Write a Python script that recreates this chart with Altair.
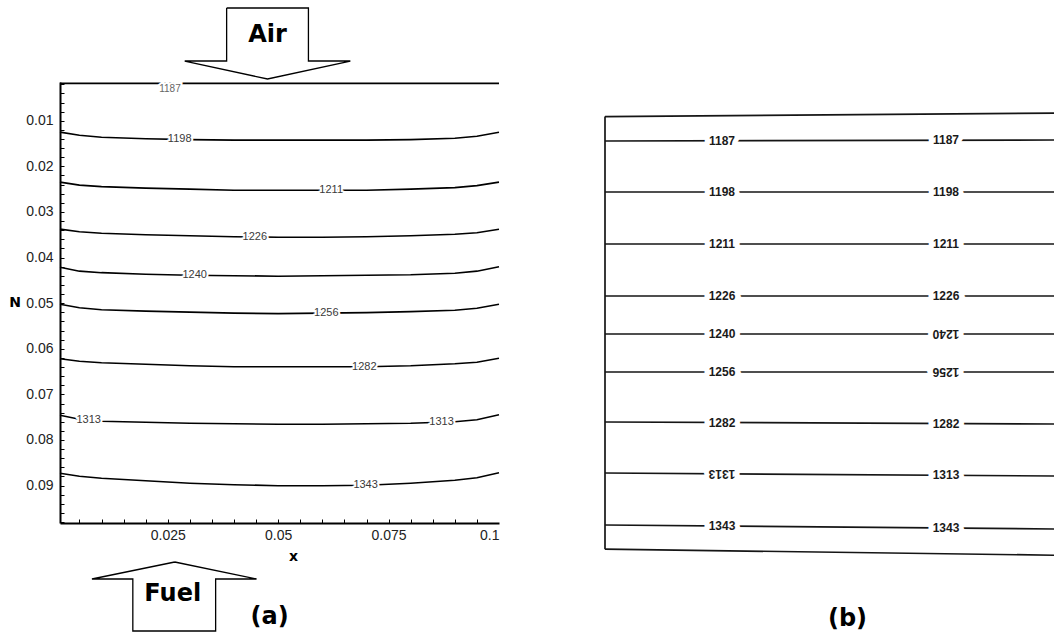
import altair as alt
import numpy as np
import pandas as pd

W, H = 1054, 637

# ---------------- Panel (a): computed isotherms ----------------
x_grid = [0.0006, 0.005, 0.01, 0.02, 0.03, 0.04, 0.05, 0.06, 0.07, 0.08, 0.09, 0.095, 0.1]
levels_a = [1187, 1198, 1211, 1226, 1240, 1256, 1282, 1313, 1343]
n_1187 = [0.0018, 0.0018, 0.0018, 0.0018, 0.0018, 0.0018, 0.0018, 0.0018, 0.0018, 0.0018, 0.0018, 0.0018, 0.0018]
n_1198 = [0.01250, 0.01316, 0.01360, 0.01393, 0.01414, 0.01425, 0.01425, 0.01425, 0.01425, 0.01414, 0.01382, 0.01338, 0.01250]
n_1211 = [0.02346, 0.02412, 0.02445, 0.02478, 0.02500, 0.02522, 0.02522, 0.02522, 0.02522, 0.02500, 0.02467, 0.02423, 0.02346]
n_1226 = [0.03377, 0.03432, 0.03465, 0.03498, 0.03520, 0.03542, 0.03553, 0.03553, 0.03542, 0.03520, 0.03487, 0.03454, 0.03377]
n_1240 = [0.04211, 0.04298, 0.04331, 0.04364, 0.04386, 0.04397, 0.04408, 0.04397, 0.04386, 0.04375, 0.04342, 0.04298, 0.04200]
n_1256 = [0.05022, 0.05099, 0.05143, 0.05175, 0.05197, 0.05219, 0.05230, 0.05219, 0.05208, 0.05186, 0.05154, 0.05110, 0.05022]
n_1282 = [0.06217, 0.06272, 0.06305, 0.06338, 0.06371, 0.06393, 0.06393, 0.06393, 0.06393, 0.06371, 0.06327, 0.06294, 0.06206]
n_1313 = [0.07456, 0.07544, 0.07588, 0.07610, 0.07632, 0.07643, 0.07654, 0.07654, 0.07643, 0.07632, 0.07599, 0.07555, 0.07445]
n_1343 = [0.08728, 0.08794, 0.08838, 0.08893, 0.08947, 0.08980, 0.09002, 0.09002, 0.08991, 0.08947, 0.08882, 0.08827, 0.08717]
contour_n = [n_1187, n_1198, n_1211, n_1226, n_1240, n_1256, n_1282, n_1313, n_1343]

# contour labels of panel (a)
label_a_level = [1187, 1198, 1211, 1226, 1240, 1256, 1282, 1313, 1313, 1343]
label_a_x = [0.0255, 0.0277, 0.0620, 0.0447, 0.0311, 0.0609, 0.0695, 0.0071, 0.0870, 0.0698]

# axis ticks of panel (a)
x_tick_labels = [0.025, 0.05, 0.075, 0.1]
y_tick_labels = [0.01, 0.02, 0.03, 0.04, 0.05, 0.06, 0.07, 0.08, 0.09]
x_minor = [0.005, 0.01, 0.015, 0.02, 0.025, 0.03, 0.035, 0.04, 0.045, 0.05,
           0.055, 0.06, 0.065, 0.07, 0.075, 0.08, 0.085, 0.09, 0.095]
y_minor = [0.002, 0.004, 0.006, 0.008, 0.01, 0.012, 0.014, 0.016, 0.018, 0.02,
           0.022, 0.024, 0.026, 0.028, 0.03, 0.032, 0.034, 0.036, 0.038, 0.04,
           0.042, 0.044, 0.046, 0.048, 0.05, 0.052, 0.054, 0.056, 0.058, 0.06,
           0.062, 0.064, 0.066, 0.068, 0.07, 0.072, 0.074, 0.076, 0.078, 0.08,
           0.082, 0.084, 0.086, 0.088, 0.09, 0.092, 0.094, 0.096, 0.098]

# flow arrows (outline vertices, in panel (a) data units)
air_x = [0.03833, 0.05685, 0.05685, 0.06634, 0.04759, 0.02884, 0.03833, 0.03833]
air_n = [-0.01473, -0.01473, -0.00310, -0.00310, 0.00084, -0.00310, -0.00310, -0.01473]
fuel_x = [0.02658, 0.04510, 0.03584, 0.03584, 0.01709, 0.01709, 0.00783, 0.02658]
fuel_n = [0.10675, 0.11048, 0.11048, 0.12188, 0.12188, 0.11048, 0.11048, 0.10675]

# ---------------- Panel (b): reference isotherms ----------------
levels_b = [1187, 1198, 1211, 1226, 1240, 1256, 1282, 1313, 1343]
b_left = [0.00619, 0.01789, 0.02982, 0.04174, 0.05046, 0.05917, 0.07064, 0.08234, 0.09427]
b_right = [0.00596, 0.01789, 0.02982, 0.04174, 0.05046, 0.05917, 0.07110, 0.08303, 0.09518]
label_b_x = [0.2606, 0.7595]
flipped_b = [(1240, 1), (1256, 1), (1313, 0)]
frame_b_x = [0, 1]
frame_b_top = [0.0006, -0.0002]
frame_b_bottom = [0.0998, 0.1012]

# ---------------- scales ----------------
XL = alt.Scale(domain=[0.0006, 0.1], range=[60, 499], nice=False, zero=False)
YL = alt.Scale(domain=[0.0015, 0.0982], range=[82, 523], nice=False, zero=False)
XR = alt.Scale(domain=[0, 1], range=[605, 1054], nice=False, zero=False)
YR = alt.Scale(domain=[0, 0.1], range=[114, 550], nice=False, zero=False)

LBL_FONT = "Liberation Sans"
BOLD_FONT = "DejaVu Sans"

# ---------------- tables ----------------
rows = []
for lev, ns in zip(levels_a, contour_n):
    for i, (xv, nv) in enumerate(zip(x_grid, ns)):
        rows.append({"x": xv, "n": nv, "level": lev, "i": i})
contours = pd.DataFrame(rows)

lab_rows = []
for lev, xv in zip(label_a_level, label_a_x):
    ns = contour_n[levels_a.index(lev)]
    lab_rows.append({"x": xv, "n": float(np.interp(xv, x_grid, ns)), "label": str(lev)})
labels_a = pd.DataFrame(lab_rows)
labels_top = labels_a[labels_a["label"] == "1187"]
labels_rest = labels_a[labels_a["label"] != "1187"]

arrows = pd.DataFrame(
    [{"x": a, "n": b, "i": i, "arrow": "air"} for i, (a, b) in enumerate(zip(air_x, air_n))]
    + [{"x": a, "n": b, "i": i, "arrow": "fuel"} for i, (a, b) in enumerate(zip(fuel_x, fuel_n))]
)

frame_a = pd.DataFrame({
    "x": [XL.domain[0], XL.domain[1]],
    "x2": [XL.domain[1], XL.domain[1]],
    "y": [YL.domain[0], YL.domain[0]],
    "y2": [YL.domain[0], YL.domain[1]],
    "w": ["top", "right"],
})

b_rows = []
for lev, l, r in zip(levels_b, b_left, b_right):
    b_rows.append({"x": 0, "n": l, "level": str(lev)})
    b_rows.append({"x": 1, "n": r, "level": str(lev)})
for xv, t in zip(frame_b_x, frame_b_top):
    b_rows.append({"x": xv, "n": t, "level": "top"})
for xv, t in zip(frame_b_x, frame_b_bottom):
    b_rows.append({"x": xv, "n": t, "level": "bottom"})
b_rows.append({"x": 0, "n": frame_b_top[0], "level": "left"})
b_rows.append({"x": 0, "n": frame_b_bottom[0], "level": "left"})
lines_b = pd.DataFrame(b_rows)

lb_rows = []
for lev, l, r in zip(levels_b, b_left, b_right):
    for k, xv in enumerate(label_b_x):
        lb_rows.append({"x": xv, "n": l + (r - l) * xv, "label": str(lev),
                        "flip": (lev, k) in flipped_b})
labels_b = pd.DataFrame(lb_rows)
labels_b_up = labels_b[~labels_b["flip"]]
labels_b_down = labels_b[labels_b["flip"]]

texts_a = pd.DataFrame({
    "x": [0.04759, 0.02613, 0.04805],
    "n": [-0.0088, 0.11377, 0.11892],
    "t": ["Air", "Fuel", "(a)"],
})
axis_titles = pd.DataFrame({"x": [-0.00956, 0.05346], "n": [0.04996, 0.10565], "t": ["N", "x"]})
texts_b = pd.DataFrame({"x": [0.5401], "n": [0.11583], "t": ["(b)"]})

# ---------------- layers ----------------
def XLn(axis=None):
    return alt.X("x:Q", scale=XL, axis=axis, title=None)

def YLn(axis=None):
    return alt.Y("n:Q", scale=YL, axis=axis, title=None)

lines_a_layer = alt.Chart(contours).mark_line(color="black", strokeWidth=1.6).encode(
    x=XLn(alt.Axis(orient="bottom", offset=-114, values=x_tick_labels, labelExpr="'' + datum.value",
                   ticks=False, grid=False, domainColor="black", domainWidth=2,
                   labelFont=LBL_FONT, labelFontSize=14, labelColor="#222",
                   labelPadding=5)),
    y=YLn(alt.Axis(orient="left", offset=-60, values=y_tick_labels, labelExpr="'' + datum.value",
                   ticks=False, grid=False, domainColor="black", domainWidth=2,
                   labelFont=LBL_FONT, labelFontSize=14, labelColor="#222",
                   labelPadding=7)),
    detail="level:N",
    order="i:Q",
)

frame_a_layer = alt.Chart(frame_a).mark_rule(color="black").encode(
    x=XLn(), x2="x2:Q", y=YLn(), y2="y2:Q",
    strokeWidth=alt.StrokeWidth("w:N", scale=alt.Scale(domain=["top", "right"], range=[1.3, 3]), legend=None),
)

halo_a = alt.Chart(labels_rest).mark_text(
    font=LBL_FONT, fontSize=11, color="white", stroke="white", strokeWidth=4, strokeJoin="round"
).encode(
    x=XLn(alt.Axis(orient="top", offset=-523, values=x_minor, labels=False, domain=False,
                   ticks=True, tickSize=4, tickColor="black", tickWidth=1, grid=False)),
    y=YLn(alt.Axis(orient="right", offset=60 - W, values=y_minor, labels=False, domain=False,
                   ticks=True, tickSize=4, tickColor="black", tickWidth=1, grid=False)),
    text="label:N",
)

text_a = alt.Chart(labels_rest).mark_text(font=LBL_FONT, fontSize=11, color="#3a3a3a").encode(
    x=XLn(), y=YLn(), text="label:N"
)

halo_top = alt.Chart(labels_top).mark_text(
    font=LBL_FONT, fontSize=10, color="white", stroke="white", strokeWidth=4, baseline="top", dy=1
).encode(x=XLn(), y=YLn(), text="label:N")
text_top = alt.Chart(labels_top).mark_text(
    font=LBL_FONT, fontSize=10, color="#666", baseline="top", dy=1
).encode(x=XLn(), y=YLn(), text="label:N")

arrows_layer = alt.Chart(arrows).mark_line(color="black", strokeWidth=1.3, strokeJoin="miter").encode(
    x=XLn(), y=YLn(), detail="arrow:N", order="i:Q"
)

big_text_a = alt.Chart(texts_a).mark_text(font=BOLD_FONT, fontWeight="bold", fontSize=24, color="black").encode(
    x=XLn(), y=YLn(), text="t:N"
)
titles_a = alt.Chart(axis_titles).mark_text(font=BOLD_FONT, fontWeight="bold", fontSize=14, color="black").encode(
    x=XLn(), y=YLn(), text="t:N"
)

def XRn():
    return alt.X("x:Q", scale=XR, axis=None, title=None)

def YRn():
    return alt.Y("n:Q", scale=YR, axis=None, title=None)

lines_b_layer = alt.Chart(lines_b).mark_line(color="#151515", strokeWidth=1.7).encode(
    x=XRn(), y=YRn(), detail="level:N"
)

def label_b_layers(df, angle):
    kw = {} if angle == 0 else {"angle": angle}
    halo = alt.Chart(df).mark_text(font=LBL_FONT, fontWeight="bold", fontSize=12, color="white",
                                   stroke="white", strokeWidth=10, **kw).encode(
        x=XRn(), y=YRn(), text="label:N")
    txt = alt.Chart(df).mark_text(font=LBL_FONT, fontWeight="bold", fontSize=12, color="#1a1a1a", **kw).encode(
        x=XRn(), y=YRn(), text="label:N")
    return [halo, txt]

big_text_b = alt.Chart(texts_b).mark_text(font=BOLD_FONT, fontWeight="bold", fontSize=24, color="black").encode(
    x=XRn(), y=YRn(), text="t:N"
)

layers = [lines_a_layer, halo_a, text_a, halo_top, text_top, frame_a_layer, arrows_layer,
          big_text_a, titles_a, lines_b_layer] + label_b_layers(labels_b_up, 0) + \
         label_b_layers(labels_b_down, 180) + [big_text_b]

chart = alt.layer(*layers).resolve_scale(
    x="independent", y="independent", strokeWidth="independent"
).resolve_axis(
    x="independent", y="independent"
).properties(
    width=W, height=H, autosize=alt.AutoSizeParams(type="none"), padding=0, background="white"
).configure_view(stroke=None)

chart.save("out.html", embed_options={"renderer": "svg", "actions": False})
